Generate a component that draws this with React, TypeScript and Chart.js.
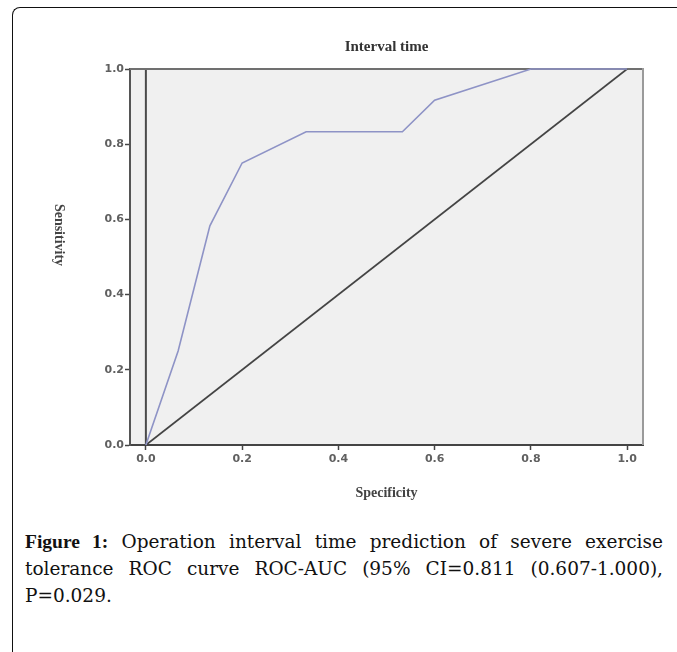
import React, { useEffect, useRef } from "react";
import { Chart, registerables } from "chart.js";

Chart.register(...registerables);

const specificity = [0, 0.067, 0.133, 0.2, 0.333, 0.533, 0.6, 0.8, 1.0];
const sensitivity = [0, 0.25, 0.583, 0.75, 0.833, 0.833, 0.917, 1.0, 1.0];
const refX = [0, 1];
const refY = [0, 1];
const xTicks = [0, 0.2, 0.4, 0.6, 0.8, 1.0];
const yTicks = [0, 0.2, 0.4, 0.6, 0.8, 1.0];
const chartTitle = "Interval time";
const xTitle = "Specificity";
const yTitle = "Sensitivity";

const framePlugin = {
  id: "frame",
  beforeDraw(chart: any) {
    const { ctx, chartArea } = chart;
    ctx.save();
    ctx.fillStyle = "#f0f0f0";
    ctx.fillRect(chartArea.left, chartArea.top, chartArea.right - chartArea.left, chartArea.bottom - chartArea.top);
    ctx.restore();
  },
  beforeDatasetsDraw(chart: any) {
    const { ctx, chartArea, scales } = chart;
    const x0 = scales.x.getPixelForValue(0);
    ctx.save();
    ctx.lineWidth = 2;
    ctx.strokeStyle = "#4a4a4a";
    ctx.beginPath();
    ctx.moveTo(x0, chartArea.top);
    ctx.lineTo(x0, chartArea.bottom);
    ctx.stroke();
    ctx.strokeStyle = "#707070";
    ctx.beginPath();
    ctx.moveTo(chartArea.left, chartArea.top);
    ctx.lineTo(chartArea.right, chartArea.top);
    ctx.stroke();
    ctx.strokeStyle = "#9a9a9a";
    ctx.beginPath();
    ctx.moveTo(chartArea.right, chartArea.top - 1);
    ctx.lineTo(chartArea.right, chartArea.bottom);
    ctx.stroke();
    ctx.restore();
  },
  afterDraw(chart: any) {
    const { ctx, chartArea } = chart;
    const cx = (chartArea.left + chartArea.right) / 2;
    ctx.save();
    ctx.fillStyle = "#333";
    ctx.textAlign = "center";
    ctx.textBaseline = "middle";
    ctx.font = 'bold 15px "Liberation Serif", serif';
    ctx.fillText(chartTitle, cx, 47);
    ctx.fillStyle = "#444";
    ctx.font = 'bold 14px "Liberation Serif", serif';
    ctx.fillText(xTitle, cx, 493);
    ctx.translate(59, 235);
    ctx.rotate(Math.PI / 2);
    ctx.fillText(yTitle, 0, 0);
    ctx.restore();
  },
};

export default function App() {
  const ref = useRef<HTMLCanvasElement | null>(null);
  useEffect(() => {
    if (!ref.current) return;
    const tickFont = { family: '"DejaVu Sans", sans-serif', size: 11, weight: "bold" as const };
    const chart = new Chart(ref.current, {
      type: "scatter",
      data: {
        datasets: [
          {
            label: "ROC",
            data: specificity.map((v, i) => ({ x: v, y: sensitivity[i] })),
            showLine: true,
            borderColor: "#8e93c6",
            borderWidth: 1.6,
            pointRadius: 0,
            fill: false,
            clip: 4,
          } as any,
          {
            label: "Reference",
            data: refX.map((v, i) => ({ x: v, y: refY[i] })),
            showLine: true,
            borderColor: "#444",
            borderWidth: 1.6,
            pointRadius: 0,
            fill: false,
            clip: 4,
          } as any,
        ],
      },
      options: {
        animation: false,
        responsive: false,
        maintainAspectRatio: false,
        layout: { padding: { left: 90, right: 34, top: 69, bottom: 45 } },
        plugins: { legend: { display: false }, title: { display: false }, tooltip: { enabled: false } },
        scales: {
          x: {
            type: "linear",
            min: -0.033,
            max: 1.033,
            afterBuildTicks: (axis: any) => {
              axis.ticks = xTicks.map((v) => ({ value: v }));
            },
            afterFit: (axis: any) => {
              axis.height = 30;
            },
            ticks: {
              font: tickFont,
              color: "#606060",
              padding: 3,
              maxRotation: 0,
              callback: (v: any) => Number(v).toFixed(1),
            },
            grid: { drawOnChartArea: false, drawTicks: true, tickLength: 5, tickColor: "#444", tickWidth: 1.5 },
            border: { display: true, color: "#444", width: 2 },
          },
          y: {
            type: "linear",
            min: 0,
            max: 1,
            afterBuildTicks: (axis: any) => {
              axis.ticks = yTicks.map((v) => ({ value: v }));
            },
            afterFit: (axis: any) => {
              axis.width = 40;
            },
            ticks: {
              font: tickFont,
              color: "#606060",
              padding: 1,
              callback: (v: any) => Number(v).toFixed(1),
            },
            grid: { drawOnChartArea: false, drawTicks: true, tickLength: 5, tickColor: "#444", tickWidth: 1.5 },
            border: { display: true, color: "#555", width: 2 },
          },
        },
      },
      plugins: [framePlugin],
    });
    return () => chart.destroy();
  }, []);

  return (
    <div style={{ position: "fixed", left: 0, top: 0, width: 677, height: 652, overflow: "hidden", background: "#fff" }}>
      <div
        style={{
          position: "absolute",
          left: 12,
          top: 7,
          width: 800,
          height: 800,
          borderLeft: "1.5px solid #111",
          borderTop: "1.5px solid #111",
          borderTopLeftRadius: 8,
        }}
      />
      <canvas ref={ref} width={677} height={520} style={{ position: "absolute", left: 0, top: 0, width: 677, height: 520 }} />
      <div
        style={{
          position: "absolute",
          left: 25,
          top: 528,
          width: 638,
          fontFamily: '"DejaVu Serif", serif',
          fontSize: 18.5,
          lineHeight: "27px",
          color: "#111",
        }}
      >
        <div style={{ textAlign: "justify", textAlignLast: "justify" as any }}>
          <b style={{ fontFamily: '"Liberation Serif", serif', fontSize: 19.5 }}>Figure 1:</b> Operation interval time prediction of severe exercise
        </div>
        <div style={{ textAlign: "justify", textAlignLast: "justify" as any }}>
          tolerance ROC curve ROC-AUC (95% CI=0.811 (0.607-1.000),
        </div>
        <div>P=0.029.</div>
      </div>
    </div>
  );
}
